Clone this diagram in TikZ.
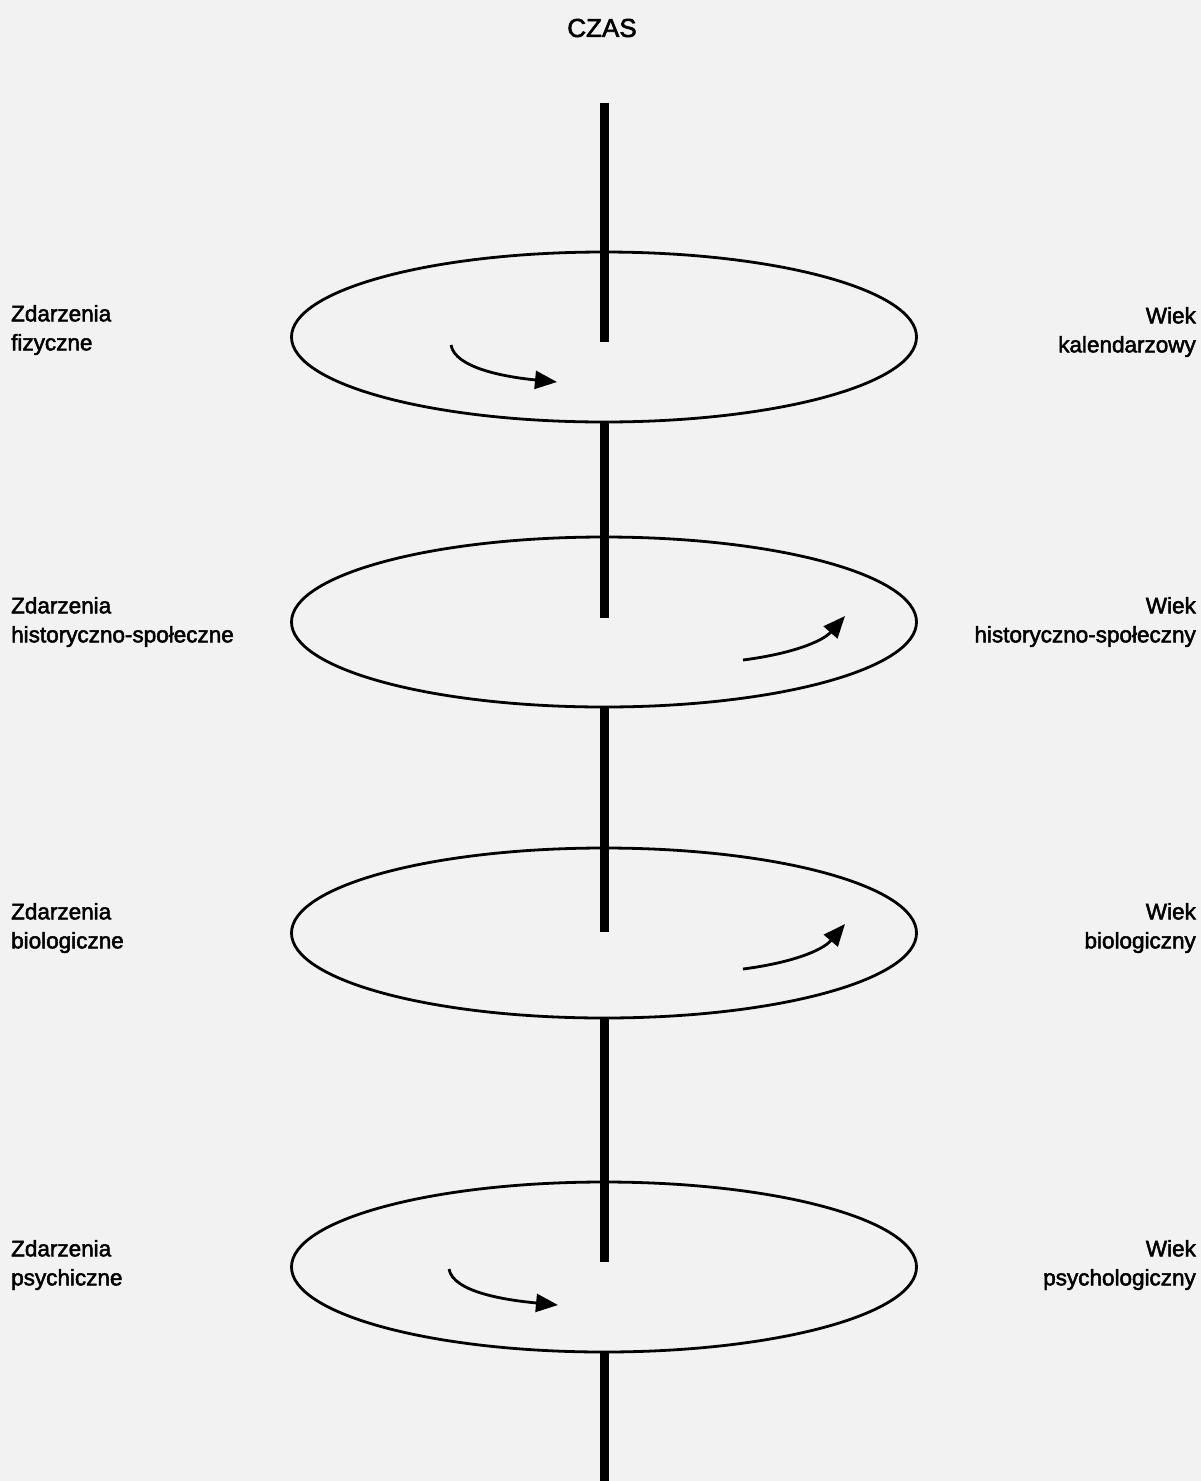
\documentclass[tikz,border=0pt]{standalone}
\usepackage{fontspec}
\setmainfont{Liberation Sans}
\newfontfamily\lblfont{Liberation Sans}[RawFeature={embolden=2.2}]
\usetikzlibrary{arrows.meta,shapes.geometric}
\begin{document}
\begin{tikzpicture}[x=1pt,y=-1pt,
  axisline/.style={line width=9pt},
  ring/.style={draw,ellipse,line width=2.8pt,minimum width=625pt,minimum height=170pt,inner sep=0pt},
  turn/.style={line width=2.8pt,-{Triangle[length=22pt,width=18pt]}},
  lbl/.style={font=\lblfont\fontsize{22.5}{29}\selectfont,inner sep=0pt},
  lbll/.style={lbl,anchor=west,align=left},
  lblr/.style={lbl,anchor=east,align=right}]
\fill[black!5] (0,0) rectangle (1201,1481);
\useasboundingbox (0,0) rectangle (1201,1481);
\node[font=\lblfont\fontsize{26}{30}\selectfont,inner sep=0pt] (czas) at (602,28) {CZAS};
% ellipses
\node[ring] (e1) at (604,337) {};
\node[ring] (e2) at (604,622) {};
\node[ring] (e3) at (604,933) {};
\node[ring] (e4) at (604,1267) {};
% axis coordinates
\coordinate (a0) at (604,103);
\coordinate (a1) at (604,342);
\coordinate (a2) at (604,618);
\coordinate (a3) at (604,932);
\coordinate (a4) at (604,1262);
\coordinate (a5) at (604,1481);
\draw[axisline] (a0) -- (a1);
\draw[axisline] (e1.south) -- (a2);
\draw[axisline] (e2.south) -- (a3);
\draw[axisline] (e3.south) -- (a4);
\draw[axisline] (e4.south) -- (a5);
% rotation arrows
\coordinate (r1s) at (451,345); \coordinate (r1e) at (557,382);
\coordinate (r2s) at (743,660); \coordinate (r2e) at (845,616);
\coordinate (r3s) at (743,969); \coordinate (r3e) at (845,924);
\coordinate (r4s) at (449,1269); \coordinate (r4e) at (558,1305);
\draw[turn] (r1s) .. controls (455,368) and (505,377) .. (r1e);
\draw[turn] (r2s) .. controls (790,654) and (822,642) .. (r2e);
\draw[turn] (r3s) .. controls (790,963) and (822,951) .. (r3e);
\draw[turn] (r4s) .. controls (453,1292) and (505,1300) .. (r4e);
% labels
\node[lbll] (l1) at (11,330) {Zdarzenia\\fizyczne};
\node[lbll] (l2) at (11,622) {Zdarzenia\\historyczno-społeczne};
\node[lbll] (l3) at (11,928) {Zdarzenia\\biologiczne};
\node[lbll] (l4) at (11,1265) {Zdarzenia\\psychiczne};
\node[lblr] (r1) at (1196,332) {Wiek\\kalendarzowy};
\node[lblr] (r2) at (1196,622) {Wiek\\historyczno-społeczny};
\node[lblr] (r3) at (1196,928) {Wiek\\biologiczny};
\node[lblr] (r4) at (1196,1265) {Wiek\\psychologiczny};
\end{tikzpicture}
\end{document}
